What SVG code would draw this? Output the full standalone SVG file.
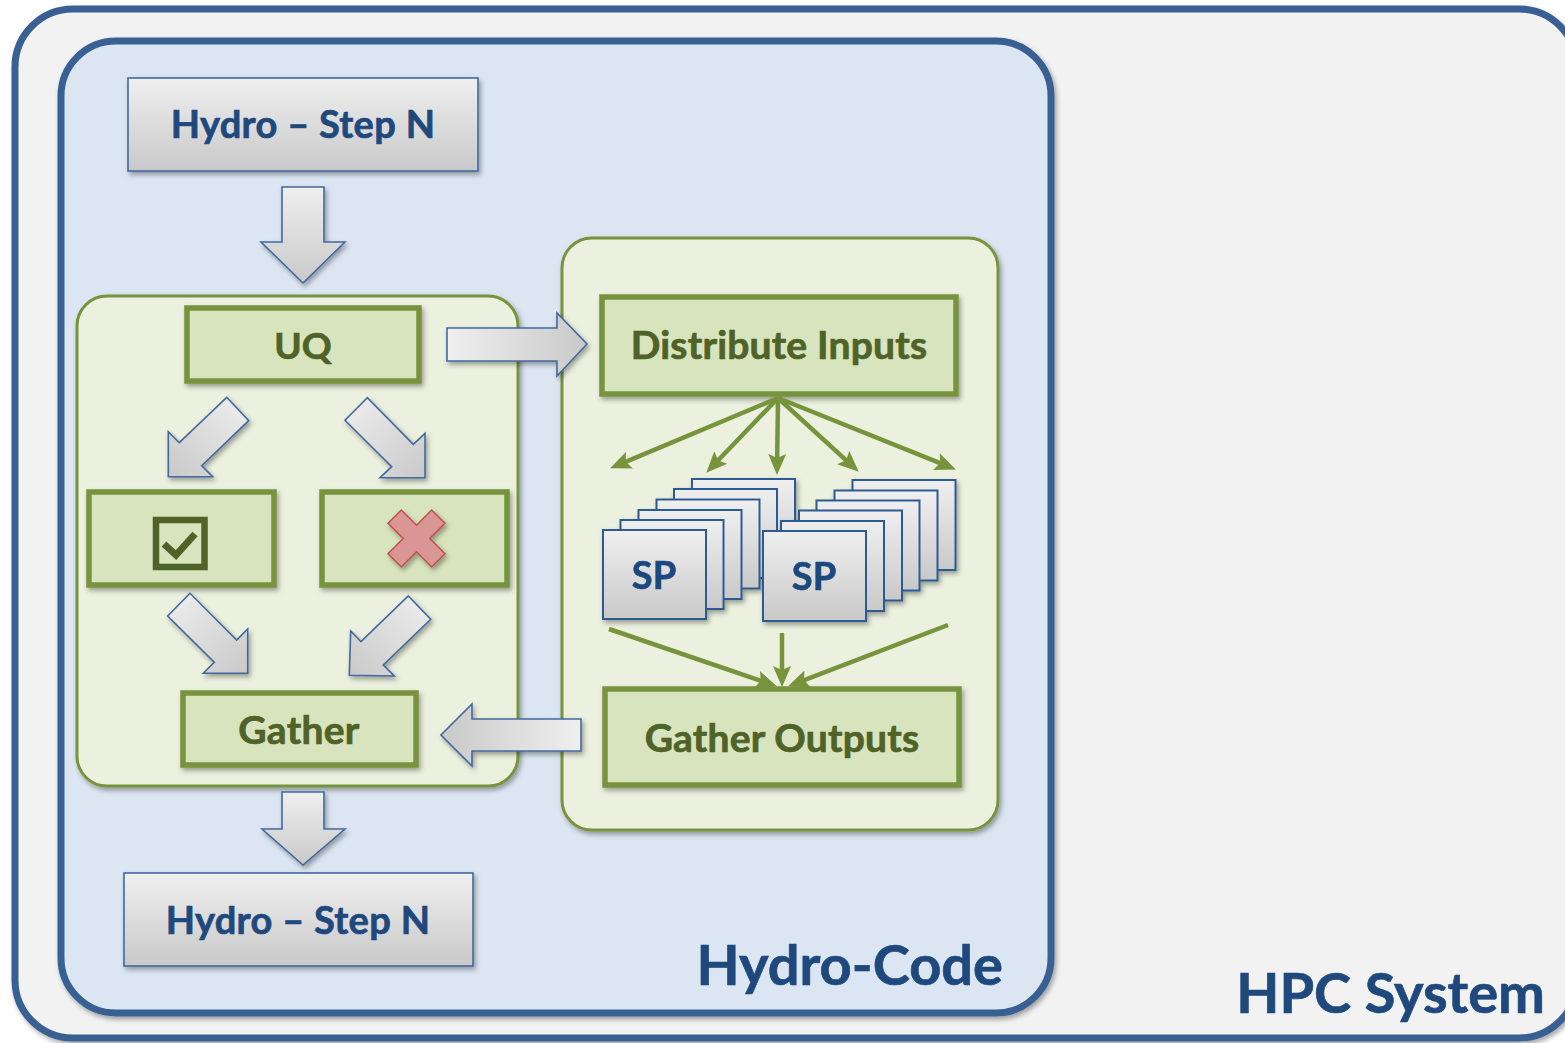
<svg xmlns="http://www.w3.org/2000/svg" width="1565" height="1043" viewBox="0 0 1565 1043">
<defs>
<style>
.lbl{font-family:Lato,"Liberation Sans",Arial,sans-serif;font-weight:bold;text-anchor:middle;stroke-width:0.7}
.blue{fill:#1f497d;stroke:#1f497d}
.grn{fill:#4f6228;stroke:#4f6228}
.gbox{fill:#d7e4bd;stroke:#77933c;stroke-width:5.5}
.cont{fill:#ebf1de;stroke:#77933c;stroke-width:3}
.gray{stroke:#41699f;stroke-width:1.6}
.card{fill:url(#gv);stroke:#2f5a92;stroke-width:2}
.gl{fill:none;stroke:#77933c;stroke-width:4.5;marker-end:url(#gh)}
</style>
<linearGradient id="gv" x1="0" y1="0" x2="0" y2="1"><stop offset="0" stop-color="#efefef"/><stop offset="1" stop-color="#c9c9c9"/></linearGradient>
<linearGradient id="gr" x1="0" y1="0" x2="1" y2="0"><stop offset="0" stop-color="#efefef"/><stop offset="1" stop-color="#c9c9c9"/></linearGradient>
<linearGradient id="gl" x1="1" y1="0" x2="0" y2="0"><stop offset="0" stop-color="#efefef"/><stop offset="1" stop-color="#c9c9c9"/></linearGradient>
<linearGradient id="gdr" x1="0" y1="0" x2="1" y2="1"><stop offset="0" stop-color="#efefef"/><stop offset="1" stop-color="#c9c9c9"/></linearGradient>
<linearGradient id="gdl" x1="1" y1="0" x2="0" y2="1"><stop offset="0" stop-color="#efefef"/><stop offset="1" stop-color="#c9c9c9"/></linearGradient>
<filter id="sh" x="-10%" y="-10%" width="130%" height="130%"><feDropShadow dx="2" dy="3" stdDeviation="2.5" flood-color="#000" flood-opacity="0.35"/></filter>
<marker id="gh" markerUnits="userSpaceOnUse" markerWidth="22" markerHeight="20" refX="10" refY="10" orient="auto"><path d="M0,1 L21,10 L0,19 L4,10 z" fill="#77933c"/></marker>
</defs>
<rect width="1565" height="1043" fill="#ffffff"/>

<g id="hpc-system">
<rect x="15" y="9" width="1562" height="1029" rx="58" fill="#f2f2f2" stroke="#376092" stroke-width="7" filter="url(#sh)"/>
<text class="lbl blue" x="1545" y="1013" font-size="56" style="text-anchor:end">HPC System</text>
</g>

<g id="hydro-code">
<rect x="61" y="41" width="990" height="972" rx="55" fill="#dce6f2" stroke="#376092" stroke-width="7" filter="url(#sh)"/>
<text class="lbl blue" x="1003" y="985" font-size="56" style="text-anchor:end">Hydro-Code</text>
</g>

<g id="uq-group">
<rect class="cont" x="77" y="296" width="441" height="490" rx="30" filter="url(#sh)"/>
</g>
<g id="sp-group">
<rect class="cont" x="562" y="238" width="436" height="592" rx="30" filter="url(#sh)"/>
</g>

<g id="hydro-step-top">
<rect x="128" y="78" width="350" height="93" fill="url(#gv)" stroke="#41699f" stroke-width="1.6" filter="url(#sh)"/>
<text class="lbl blue" x="303" y="138" font-size="38" letter-spacing="0.3">Hydro – Step N</text>
</g>

<g id="uq">
<rect class="gbox" x="187" y="308" width="232" height="73" filter="url(#sh)"/>
<text class="lbl grn" x="303" y="359" font-size="37">UQ</text>
</g>

<g id="accept">
<rect class="gbox" x="89" y="492" width="185" height="93" filter="url(#sh)"/>
<rect x="156" y="520" width="48.5" height="47" fill="#d7e4bd" stroke="#4f6228" stroke-width="6.5"/>
<path d="M164,544 L176,555 L195,534" fill="none" stroke="#4f6228" stroke-width="7"/>
</g>

<g id="reject">
<rect class="gbox" x="322" y="492" width="185" height="93" filter="url(#sh)"/>
<polygon transform="translate(416.5,538.5)" points="-28.5,-15.2 -15.2,-28.5 0,-13.3 15.2,-28.5 28.5,-15.2 13.3,0 28.5,15.2 15.2,28.5 0,13.3 -15.2,28.5 -28.5,15.2 -13.3,0" fill="#d99694" stroke="#c0504d" stroke-width="1.5" filter="url(#sh)"/>
</g>

<g id="gather">
<rect class="gbox" x="183" y="693" width="233" height="72" filter="url(#sh)"/>
<text class="lbl grn" x="299" y="744" font-size="39" letter-spacing="0.3">Gather</text>
</g>

<g id="hydro-step-bottom">
<rect x="124" y="873" width="349" height="93" fill="url(#gv)" stroke="#41699f" stroke-width="1.6" filter="url(#sh)"/>
<text class="lbl blue" x="298" y="934" font-size="38" letter-spacing="0.3">Hydro – Step N</text>
</g>

<g id="distribute-inputs">
<rect class="gbox" x="602" y="297" width="354" height="97" filter="url(#sh)"/>
<text class="lbl grn" x="779" y="359" font-size="39" letter-spacing="0.2">Distribute Inputs</text>
</g>

<g id="sp-stack-left" filter="url(#sh)">
<rect class="card" x="692" y="479" width="103" height="89"/>
<rect class="card" x="674" y="489" width="103" height="89"/>
<rect class="card" x="656.5" y="499.5" width="103" height="89"/>
<rect class="card" x="638.5" y="510" width="103" height="89"/>
<rect class="card" x="620.5" y="520" width="103" height="89"/>
<rect class="card" x="603" y="530" width="103" height="89"/>
<text class="lbl blue" x="654" y="589" font-size="38">SP</text>
</g>

<g id="sp-stack-right" filter="url(#sh)">
<rect class="card" x="852.5" y="480" width="103" height="90"/>
<rect class="card" x="834.5" y="490.5" width="103" height="90"/>
<rect class="card" x="816.5" y="500.5" width="103" height="90"/>
<rect class="card" x="799" y="510.5" width="103" height="90"/>
<rect class="card" x="781" y="521" width="103" height="90"/>
<rect class="card" x="763" y="531" width="103" height="90"/>
<text class="lbl blue" x="814" y="590" font-size="38">SP</text>
</g>

<g id="gather-outputs">
<rect class="gbox" x="605" y="689" width="354" height="96" filter="url(#sh)"/>
<text class="lbl grn" x="782" y="752" font-size="39" letter-spacing="0.2">Gather Outputs</text>
</g>

<g id="connectors">
<g filter="url(#sh)">
<polygon class="gray" fill="url(#gv)" points="282,187 324,187 324,242 345,242 303,283 261,242 282,242"/>
<polygon class="gray" fill="url(#gr)" points="447,328 557,328 557,313 587,344 557,376 557,361 447,361"/>
<polygon class="gray" fill="url(#gdl)" points="226.7,397.3 248.7,420.7 201.7,465.7 212.7,476.7 168.3,476.7 168.3,431.7 179.3,442.7"/>
<polygon class="gray" fill="url(#gdr)" points="367.3,397.7 345,420.3 391.7,466.7 380,477.7 425,477.7 425,433.3 413.3,444.3"/>
<polygon class="gray" fill="url(#gdr)" points="190,593.3 167.7,616 214.3,662.3 203.3,673.3 247.7,673.3 247.7,629 236.7,640"/>
<polygon class="gray" fill="url(#gdl)" points="408.3,596 430.7,619.3 383.3,665 394.3,676 349.3,675.3 350.7,631 361,641.7"/>
<polygon class="gray" fill="url(#gl)" points="581,719 581,751 472,751 472,766 441,735 472,704 472,719"/>
<polygon class="gray" fill="url(#gv)" points="282,792 324,792 324,829 345,829 303,865 262,829 282,829"/>
</g>
<g>
<line class="gl" x1="778" y1="398" x2="620.2" y2="464.1"/>
<line class="gl" x1="778" y1="398" x2="713.9" y2="464.8"/>
<line class="gl" x1="778" y1="398" x2="777.1" y2="464"/>
<line class="gl" x1="778" y1="398" x2="850.6" y2="464.3"/>
<line class="gl" x1="778" y1="398" x2="945.7" y2="465.3"/>
<line class="gl" x1="609" y1="629" x2="766.5" y2="682.8"/>
<line class="gl" x1="782" y1="633" x2="782" y2="676"/>
<line class="gl" x1="948" y1="625" x2="798.3" y2="682.4"/>
</g>
</g>
</svg>
